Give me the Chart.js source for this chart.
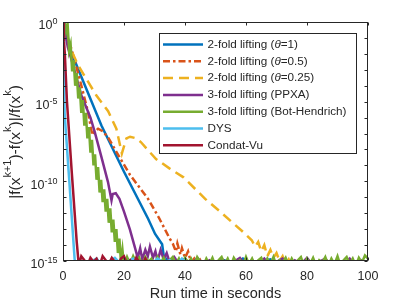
<!DOCTYPE html>
<html>
<head>
<meta charset="utf-8">
<script src="https://cdn.jsdelivr.net/npm/chart.js@4.4.1/dist/chart.umd.min.js"></script>
<style>
  html, body { margin: 0; padding: 0; background: #fff; }
  canvas { display: block; }
</style>
</head>
<body>
<canvas id="chart" width="407" height="305"></canvas>
<script>
// Relative change per run time, values kept as log10

const seriesNames = [
    '2-fold lifting (θ=1)',
    '2-fold lifting (θ=0.5)',
    '2-fold lifting (θ=0.25)',
    '3-fold lifting (PPXA)',
    '3-fold lifting (Bot-Hendrich)',
    'DYS',
    'Condat-Vu'
];

// [time in s, log10 value]
const liftTheta1 = [[0,0],[0.5,-0.1],[2.7,-1.9],[12.6,-6.5],[20,-9.4],[27.9,-12.35],[30.2,-13.3],[32.5,-13.95],
    [33.4,-15.2],[34,-14.9],[36,-15.3],[38,-14.95],[41,-15.2],[44,-14.9],[47,-15.3],[50,-15.05],[53,-14.95],[56,-15.3],
    [59,-14.85],[62,-15.2],[65,-15.05],[68,-14.9],[71,-15.3],[74,-14.95]];

const liftTheta05 = [[0,0],[1,-0.8],[2.7,-1.65],[5.5,-3.6],[8.2,-5.65],[9.6,-7.1],[10.2,-6.9],[11.5,-6.7],[13,-6.85],
    [14.8,-7.25],[17.5,-8.15],[22,-9.6],[27.9,-11.1],[31.5,-12.3],[35,-13.6],[36,-13.9],[37,-14.4],[37.5,-13.9],
    [38.5,-14.6],[39,-14.2],[40,-14.8],[41,-14.4],[42,-15.1],[43,-14.85],[44,-15.3],[45,-14.95],[46,-15.3]];

const liftTheta025 = [[0,0],[2.2,-1.55],[4.9,-2.7],[10.9,-4.6],[14.8,-5.6],[17.5,-6.7],[19.3,-8.25],[20.8,-7.3],
    [22,-7.2],[24,-7.3],[25.6,-7.55],[27.2,-7.9],[30.5,-8.6],[35,-9.2],[39.5,-9.75],[46.6,-11.1],[51.5,-11.9],
    [55.3,-12.55],[58.6,-13.1],[61.9,-13.7],[63,-14.1],[64,-13.8],[65,-14.4],[66,-14.0],[67,-14.7],[68,-14.3],
    [69,-14.8],[70,-14.5],[71,-15.0],[72,-14.7],[73,-15.2],[74,-14.9],[75,-15.3]];

const ppxa = [[0,0],[1.6,-1.6],[2.7,-2.3],[6,-4.6],[9,-6.0],[10.4,-6.9],[12.5,-8.4],[14.75,-10.05],[15.9,-11.2],
    [16.3,-10.8],[17.3,-10.75],[18.5,-11.1],[20,-11.9],[21.9,-13.0],[23.5,-14.1],[24.5,-14.8],[25.3,-14.2],[26,-14.9],
    [27,-14.3],[27.8,-14.7],[28.5,-14.1],[29.5,-14.8],[30.3,-14.4],[31,-15.0],[32,-14.3],[33,-14.9],[34,-14.5],
    [35,-15.1],[36.5,-14.75],[38,-15.2],[40,-14.85],[42,-15.3],[44,-14.8],[46,-15.2],[48,-14.95],[50,-15.3],[52,-14.85],
    [54,-15.2],[56,-15.05],[58,-14.8],[60,-15.3],[62,-14.95],[64,-15.2],[66,-14.85],[68,-15.3],[70,-15.05],[72,-14.85],
    [74,-15.3],[76,-14.95],[78,-15.2],[80,-14.8],[82,-15.3],[84,-15.05],[86,-14.85],[88,-15.3],[90,-14.95],[92,-15.2],
    [94,-14.85],[96,-15.3],[98,-14.95],[100,-15.2]];

const botHendrich = [[0,0],[0.5,0],[1,-0.6],[1.5,-0.1],[2,-1.8],[2.5,-1.4],[3,-3.1],[3.5,-2.4],[4,-4.0],[4.5,-3.2],
    [5,-4.8],[5.5,-4.1],[6,-5.7],[6.5,-4.9],[7,-6.5],[7.5,-5.7],[8,-7.3],[8.5,-6.6],[9,-8.2],[9.5,-7.4],[10,-9.0],
    [10.5,-8.3],[11,-9.9],[11.5,-9.1],[12,-10.7],[12.5,-9.9],[13,-11.3],[13.5,-10.5],[14,-11.9],[14.5,-11.1],
    [15,-12.6],[15.5,-11.7],[16,-13.2],[16.5,-12.4],[17,-13.8],[17.5,-13.0],[18,-14.5],[18.5,-13.6],[19,-15.1],
    [19.5,-14.3],[20,-15.3],[21,-14.75],[22,-15.2],[23,-14.7],[24,-15.1],[25,-14.8],[26,-15.3],[27,-14.75],[28,-15.05],
    [29,-14.85],[30,-15.3],[31,-14.75],[32,-15.1],[33,-14.8],[34,-15.3],[35,-14.95],[36,-14.75],[37,-15.2],[38,-14.85],
    [39,-15.3],[40,-14.8],[41,-15.1],[42,-14.85],[43,-15.3],[44,-14.75],[45,-15.05],[46,-15.3],[47,-14.85],[48,-15.2],
    [49,-14.8],[50,-15.3],[51,-14.95],[52,-14.75],[53,-15.2],[54,-14.85],[55,-15.3],[56,-14.8],[57,-15.1],[58,-14.95],
    [59,-15.3],[60,-14.75],[61,-15.2],[62,-14.85],[63,-15.3],[64,-14.95],[65,-14.8],[66,-15.3],[67,-14.85],[68,-15.2],
    [69,-14.75],[70,-15.3],[71,-14.95],[72,-15.1],[73,-14.8],[74,-15.3],[75,-14.85],[76,-15.2],[77,-14.95],[78,-14.75],
    [79,-15.3],[80,-14.85],[81,-15.2],[82,-14.8],[83,-15.3],[84,-14.95],[85,-15.1],[86,-14.75],[87,-15.3],[88,-14.85],
    [89,-15.2],[90,-14.7],[91,-15.3],[92,-14.95],[93,-14.75],[94,-15.2],[95,-14.85],[96,-15.3],[97,-14.8],[98,-15.1],
    [99,-14.65],[100,-14.85]];

const dys = [[0,0],[0.3,-3.5],[0.55,-5.8],[2,-9.8],[3.8,-14.85],[4.1,-15.3],[5,-14.95],[7,-15.3],[9,-15.05],[11,-14.85],
    [13,-15.3],[15,-15.05],[17,-14.8],[19,-15.2],[21,-15.05],[23,-14.85],[25,-15.3],[27,-14.95],[29,-15.2],[31,-14.85],
    [33,-15.1],[35,-14.95],[37,-15.3],[39,-14.85],[41,-15.2],[43,-15.05],[45,-15.3]];

const condatVu = [[0,0],[0.3,-1.2],[0.6,-2.0],[1.3,-5.0],[2.9,-9.5],[4.5,-13.8],[5.2,-15.3],[6,-14.7],[7,-14.95],
    [8,-15.3],[9,-14.8],[10,-15.05],[11,-14.85],[12,-15.3],[13,-14.7],[14,-14.95],[15,-15.2],[16,-14.8],[17,-15.05],
    [18,-15.3],[19,-14.85],[20,-14.7],[21,-15.2],[22,-14.95],[23,-15.3],[24,-14.8],[25,-15.05],[26,-15.3],[27,-14.85],
    [28,-15.2]];

const seriesData = [liftTheta1, liftTheta05, liftTheta025, ppxa, botHendrich, dys, condatVu];
const seriesColors = ['#0072BD', '#D95319', '#EDB120', '#7E2F8E', '#77AC30', '#4DBEEE', '#A2142F'];
const seriesDash = [[], [7, 3, 2.5, 3], [10, 6], [], [], [], []];

const xTicks = [0, 20, 40, 60, 80, 100];
const yDecades = [0, -1, -2, -3, -4, -5, -6, -7, -8, -9, -10, -11, -12, -13, -14, -15];
const yLabelExps = [0, -5, -10, -15];

const FONT = '"Liberation Sans", Arial, Helvetica, sans-serif';
const INK = '#262626';

/**
 * Box, inward ticks, y labels with exponents, y title, legend
 */
const matlabDecor = {
    id: 'matlabDecor',
    afterDraw(chart) {
        const { ctx, chartArea: a, scales: { x, y } } = chart;
        const L = Math.round(a.left) + 0.5, R = Math.round(a.right) - 0.5;
        const T = Math.round(a.top) + 0.5, B = Math.round(a.bottom) - 0.5;

        ctx.save();
        ctx.strokeStyle = INK;
        ctx.lineWidth = 1;
        ctx.strokeRect(L, T, R - L, B - T);

        ctx.beginPath();
        xTicks.forEach(v => {
            const px = Math.round(x.getPixelForValue(v)) + 0.5;
            ctx.moveTo(px, B); ctx.lineTo(px, B - 3);
            ctx.moveTo(px, T); ctx.lineTo(px, T + 3);
        });
        y.ticks.forEach(t => {
            const py = Math.round(y.getPixelForValue(t.value)) + 0.5;
            ctx.moveTo(L, py); ctx.lineTo(L + 3, py);
            ctx.moveTo(R, py); ctx.lineTo(R - 3, py);
        });
        ctx.stroke();

        // y tick labels 10^n
        ctx.fillStyle = INK;
        ctx.textBaseline = 'alphabetic';
        yLabelExps.forEach(e => {
            const py = y.getPixelForValue(10 ** e);
            const sup = String(e);
            ctx.font = `9px ${FONT}`;
            const supW = ctx.measureText(sup).width;
            ctx.font = `12.5px ${FONT}`;
            const baseW = ctx.measureText('10').width;
            const right = 57.5;
            ctx.fillText('10', right - supW - baseW, py + 7.2);
            ctx.font = `9px ${FONT}`;
            ctx.fillText(sup, right - supW, py + 2.4);
        });

        drawYTitle(ctx, 142);
        drawLegend(chart);
        ctx.restore();
    }
};

function drawYTitle(ctx, cy) {
    const parts = [['|f(x', 0], ['k+1', 1], [')-f(x', 0], ['k', 1], [')|/f(x', 0], ['k', 1], [')', 0]];
    const mainFont = `15.5px ${FONT}`, supFont = `11px ${FONT}`;
    let total = 0;
    parts.forEach(([s, sup]) => {
        ctx.font = sup ? supFont : mainFont;
        total += ctx.measureText(s).width;
    });
    ctx.save();
    ctx.translate(0, cy);
    ctx.rotate(-Math.PI / 2);
    ctx.fillStyle = INK;
    ctx.textBaseline = 'alphabetic';
    let u = -total / 2;
    parts.forEach(([s, sup]) => {
        ctx.font = sup ? supFont : mainFont;
        ctx.fillText(s, u, sup ? 11 : 19.7);
        u += ctx.measureText(s).width;
    });
    ctx.restore();
}

function drawLegend(chart) {
    const ctx = chart.ctx;
    const box = { x: 159.5, y: 33.5, w: 197, h: 120 };
    ctx.save();
    ctx.fillStyle = '#fff';
    ctx.fillRect(box.x, box.y, box.w, box.h);
    ctx.strokeStyle = INK;
    ctx.lineWidth = 1;
    ctx.strokeRect(box.x, box.y, box.w, box.h);

    seriesNames.forEach((name, i) => {
        const yy = 44.5 + i * 16.8;
        ctx.beginPath();
        ctx.strokeStyle = seriesColors[i];
        ctx.lineWidth = 2.5;
        ctx.lineCap = 'butt';
        ctx.setLineDash(seriesDash[i]);
        ctx.moveTo(163, yy);
        ctx.lineTo(203, yy);
        ctx.stroke();
        ctx.setLineDash([]);

        ctx.fillStyle = INK;
        ctx.textBaseline = 'middle';
        let tx = 207.5;
        const pieces = name.split('θ');
        pieces.forEach((p, k) => {
            if (k > 0) {
                ctx.font = `italic 11.7px ${FONT}`;
                ctx.fillText('θ', tx, yy);
                tx += ctx.measureText('θ').width;
            }
            ctx.font = `11.7px ${FONT}`;
            ctx.fillText(p, tx, yy);
            tx += ctx.measureText(p).width;
        });
    });
    ctx.restore();
}

const datasets = seriesData.map((pts, i) => ({
    label: seriesNames[i],
    data: pts.map(([t, v]) => ({ x: t, y: 10 ** v })),
    borderColor: seriesColors[i],
    backgroundColor: seriesColors[i],
    borderWidth: 2.5,
    borderDash: seriesDash[i],
    borderCapStyle: 'butt',
    borderJoinStyle: 'miter',
    showLine: true,
    pointRadius: 0,
    tension: 0,
    clip: 0,
    order: seriesData.length - i
}));

Chart.defaults.font.family = FONT;

new Chart(document.getElementById('chart'), {
    type: 'scatter',
    data: { datasets },
    options: {
        responsive: false,
        animation: false,
        devicePixelRatio: 1,
        layout: { padding: { left: 0, right: 39, top: 22, bottom: 0 } },
        plugins: { legend: { display: false }, tooltip: { enabled: false } },
        scales: {
            x: {
                type: 'linear', min: 0, max: 100,
                afterBuildTicks(scale) { scale.ticks = xTicks.map(v => ({ value: v })); },
                afterFit(scale) { scale.height = 44; },
                ticks: { font: { size: 12.5 }, color: INK, padding: 8, maxRotation: 0, autoSkip: false },
                grid: { display: false, drawTicks: false },
                border: { display: false },
                title: {
                    display: true, text: 'Run time in seconds', color: INK,
                    font: { size: 14.5 }, padding: { top: 0, bottom: 2 }
                }
            },
            y: {
                type: 'logarithmic', min: 1e-15, max: 1,
                afterBuildTicks(scale) { scale.ticks = yDecades.map(e => ({ value: 10 ** e })); },
                afterFit(scale) { scale.width = 63; },
                ticks: { display: false },
                grid: { display: false, drawTicks: false },
                border: { display: false }
            }
        }
    },
    plugins: [matlabDecor]
});
</script>
</body>
</html>
